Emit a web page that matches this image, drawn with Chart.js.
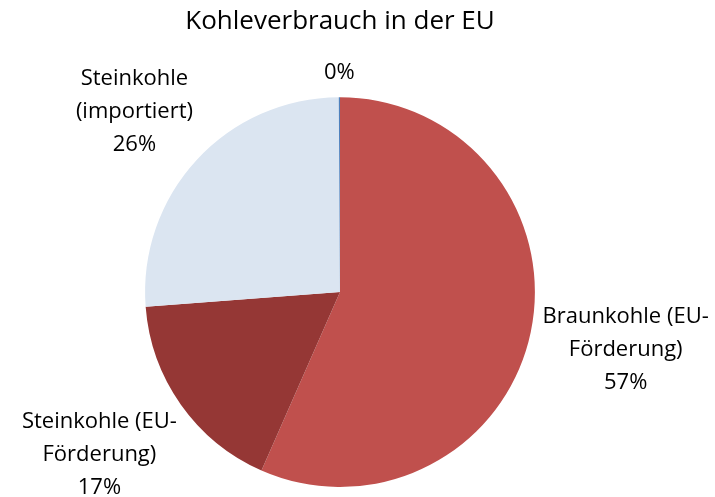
<!DOCTYPE html>
<html>
<head>
<meta charset="utf-8">
<script src="https://cdn.jsdelivr.net/npm/chart.js@4/dist/chart.umd.min.js"></script>
<style>
  html, body { margin: 0; padding: 0; background: #fff; }
  #wrap { width: 715px; height: 497px; }
</style>
</head>
<body>
<div id="wrap"><canvas id="pieChart"></canvas></div>
<script>
const categories = [
    ["Braunkohle (EU-", "Förderung)"],
    ["Steinkohle (EU-", "Förderung)"],
    ["Steinkohle", "(importiert)"],
    [],
];
const shares = [56.6, 17.2, 26.1, 0.1];
const sliceColors = ["#C0504D", "#953735", "#DBE5F1", "#4F81BD"];

const FONT = "'Open Sans', 'Noto Sans', sans-serif";
const LABEL_SIZE = 22;
const LINE_H = 33;

// labels outside the pie, box pushed out until its nearest corner clears the circle
const outsideLabels = {
    id: "outsideLabels",
    afterDraw(chart) {
        const ctx = chart.ctx;
        const meta = chart.getDatasetMeta(0);
        const total = shares.reduce((a, b) => a + b, 0);
        ctx.save();
        ctx.font = LABEL_SIZE + "px " + FONT;
        ctx.fillStyle = "#000";
        ctx.textAlign = "center";
        ctx.textBaseline = "middle";

        meta.data.forEach((arc, i) => {
            const lines = categories[i].concat([Math.round(shares[i] / total * 100) + "%"]);
            const w = Math.max(...lines.map((l) => ctx.measureText(l).width));
            const h = lines.length * LINE_H;
            const mid = (arc.startAngle + arc.endAngle) / 2;
            const dx = Math.cos(mid);
            const dy = Math.sin(mid);
            const R = arc.outerRadius + 8;
            const ox = dx > 0 ? -w / 2 : w / 2;
            const oy = dy > 0 ? -h / 2 : h / 2;
            // solve |t*d + o| = R
            const b = dx * ox + dy * oy;
            const c = ox * ox + oy * oy - R * R;
            const t = -b + Math.sqrt(b * b - c);
            const cx = arc.x + dx * t;
            const cy = arc.y + dy * t - dy * (lines.length - 1) * 7;
            lines.forEach((line, k) => {
                ctx.fillText(line, cx, cy - h / 2 + LINE_H * (k + 0.5));
            });
        });
        ctx.restore();
    },
};

new Chart(document.getElementById("pieChart"), {
    type: "pie",
    data: {
        labels: categories.map((c) => c.join(" ")),
        datasets: [
            {
                data: shares,
                backgroundColor: sliceColors,
                borderWidth: 0,
            },
        ],
    },
    options: {
        responsive: true,
        maintainAspectRatio: false,
        animation: false,
        layout: {
            padding: { top: 0, bottom: 10, left: 145, right: 180 },
        },
        plugins: {
            legend: { display: false },
            tooltip: { enabled: false },
            title: {
                display: true,
                text: "Kohleverbrauch in der EU",
                color: "#000",
                font: { family: FONT, size: 26, weight: "normal" },
                padding: { top: 6, bottom: 60 },
            },
        },
    },
    plugins: [outsideLabels],
});
</script>
</body>
</html>
